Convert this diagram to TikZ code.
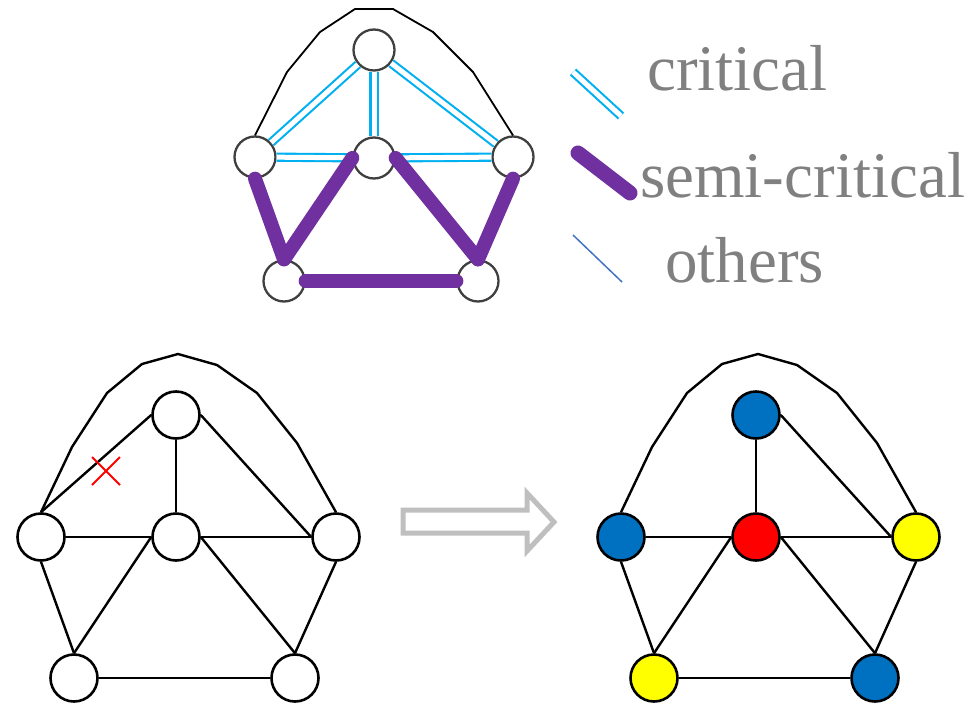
\documentclass[tikz,border=0pt]{standalone}
\usepackage{fontspec}
\setmainfont{Liberation Serif}
\usetikzlibrary{shapes.misc}

\definecolor{critblue}{RGB}{0,176,240}
\definecolor{semipurple}{RGB}{112,48,160}
\definecolor{otherblue}{RGB}{68,114,196}
\definecolor{colblue}{RGB}{0,112,192}
\definecolor{colyellow}{RGB}{255,255,0}
\definecolor{colred}{RGB}{255,0,0}
\definecolor{legendgray}{RGB}{128,128,128}
\definecolor{arrowgray}{RGB}{191,191,191}
\definecolor{ringgray}{RGB}{64,64,64}

\tikzset{
	vertex/.style={circle,draw=black,line width=2.6pt,minimum size=47pt,inner sep=0pt,fill=white},
	smallvertex/.style={circle,draw=ringgray,line width=2.3pt,minimum size=41pt,inner sep=0pt},
	critical/.style={draw=critblue,double=white,double distance=5pt,line width=2.1pt},
	semicritical/.style={draw=semipurple,line width=14pt,line cap=round},
	other/.style={draw=otherblue,line width=1.5pt},
	edge/.style={draw=black,line width=2.4pt},
	legendtext/.style={anchor=base west,inner sep=0pt,text=legendgray,font=\fontsize{65}{70}\selectfont},
}

\begin{document}
\begin{tikzpicture}[x=1pt,y=-1pt]

		\useasboundingbox (0,0) rectangle (973,709);

		\node[smallvertex] (tT) at (374,50) {};
		\node[smallvertex] (tL) at (255,157) {};
		\node[smallvertex] (tC) at (374,158) {};
		\node[smallvertex] (tR) at (513,157) {};
		\node[smallvertex] (tBL) at (284,281) {};
		\node[smallvertex] (tBR) at (478,281) {};

		\draw[line width=1.8pt] (tL.north) -- (287,72) -- (320,32) -- (355,9) -- (393,9) -- (433,32) -- (473,72) -- (tR.north);

		\draw[critical] (tT) -- (tL);
		\draw[critical] (tT) -- (tC);
		\draw[critical] (tT) -- (tR);
		\draw[critical] (tL) -- (tC);
		\draw[critical] (tC) -- (tR);

		\draw[semicritical] (tL.south) -- (tBL.north);
		\draw[semicritical] (tBL.north) -- (tC.west);
		\draw[semicritical] (tC.east) -- (tBR.north);
		\draw[semicritical] (tBR.north) -- (tR.south);
		\draw[semicritical] (tBL.east) -- (tBR.west);

		\node[legendtext] (crit) at (647,90) {critical};
		\node[legendtext] (semi) at (640,197) {semi-critical};
		\node[legendtext] (oth) at (665,282) {others};

		\coordinate (crita) at (573,72);
		\coordinate (critb) at (621,116);
		\coordinate (semia) at (578,153);
		\coordinate (semib) at (630,193);
		\coordinate (otha) at (573,235);
		\coordinate (othb) at (622,282);

		\draw[critical] (crita) -- (critb);
		\draw[semicritical,line width=15pt] (semia) -- (semib);
		\draw[other] (otha) -- (othb);


		\node[vertex] (lT) at (176,415) {};
		\node[vertex] (lL) at (41,537) {};
		\node[vertex] (lC) at (176,537) {};
		\node[vertex] (lR) at (336,537) {};
		\node[vertex] (lBL) at (74,678) {};
		\node[vertex] (lBR) at (295,678) {};

		\draw[edge] (lL.north) -- (72,447) -- (107,393) -- (142,364) -- (178,354) -- (217,365) -- (257,393) -- (297,443) -- (lR.north);
		\draw[edge] (lL.north) -- (lT.west);
		\draw[edge] (lT.south) -- (lC.north);
		\draw[edge] (lT.east) -- (lR.west);
		\draw[edge] (lL.east) -- (lC.west);
		\draw[edge] (lC.east) -- (lR.west);
		\draw[edge] (lL.south) -- (lBL.north);
		\draw[edge] (lC.west) -- (lBL.north);
		\draw[edge] (lC.east) -- (lBR.north);
		\draw[edge] (lR.south) -- (lBR.north);
		\draw[edge] (lBL.east) -- (lBR.west);

		\node[cross out,draw=colred,line width=2pt,minimum size=26pt,inner sep=0pt] (cut) at (106,471) {};

		\draw[arrowgray,line width=5pt] (403,510) -- (527,510) -- (527,493) -- (554,522) -- (527,551) -- (527,533) -- (403,533) -- cycle;

		\begin{scope}[xshift=580pt]
		\node[vertex,fill=colblue] (rT) at (176,415) {};
		\node[vertex,fill=colblue] (rL) at (41,537) {};
		\node[vertex,fill=colred] (rC) at (176,537) {};
		\node[vertex,fill=colyellow] (rR) at (336,537) {};
		\node[vertex,fill=colyellow] (rBL) at (74,678) {};
		\node[vertex,fill=colblue] (rBR) at (295,678) {};

		\draw[edge] (rL.north) -- (72,447) -- (107,393) -- (142,364) -- (178,354) -- (217,365) -- (257,393) -- (297,443) -- (rR.north);
		\draw[edge] (rT.south) -- (rC.north);
		\draw[edge] (rT.east) -- (rR.west);
		\draw[edge] (rL.east) -- (rC.west);
		\draw[edge] (rC.east) -- (rR.west);
		\draw[edge] (rL.south) -- (rBL.north);
		\draw[edge] (rC.west) -- (rBL.north);
		\draw[edge] (rC.east) -- (rBR.north);
		\draw[edge] (rR.south) -- (rBR.north);
		\draw[edge] (rBL.east) -- (rBR.west);
		\end{scope}

	\end{tikzpicture}
\end{document}
